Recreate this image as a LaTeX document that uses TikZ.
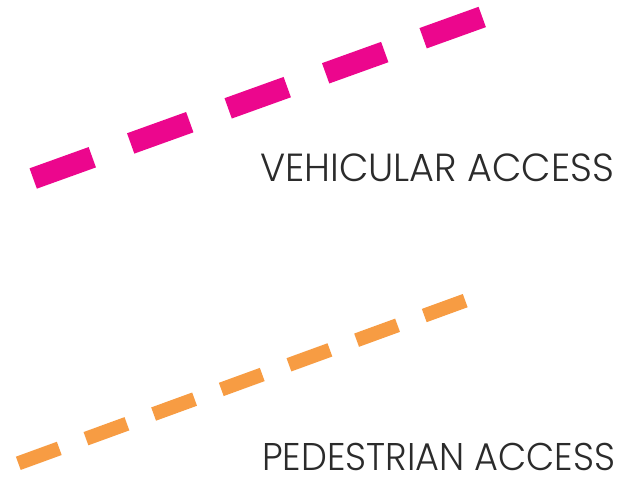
\documentclass[tikz,border=0pt]{standalone}
\usepackage{fontspec}
\setmainfont{Poppins}[UprightFont={* Light}]
\definecolor{vehpink}{HTML}{EC068D}
\definecolor{pedorange}{HTML}{F79C43}
\definecolor{labelgray}{HTML}{2B2B2B}
\begin{document}
\begin{tikzpicture}[x=1pt,y=-1pt,
  vehline/.style={draw=vehpink,line width=21.6pt,line cap=butt,dash pattern=on 62.8pt off 40.8pt},
  pedline/.style={draw=pedorange,line width=14.1pt,line cap=butt,dash pattern=on 43.6pt off 28.4pt},
  legendlabel/.style={anchor=base west,inner sep=0pt,text=labelgray,font=\fontsize{39}{39}\selectfont}]
\useasboundingbox[fill=white] (0,0) rectangle (626,479);
\coordinate (v1) at (33.2,178.5);
\coordinate (v2) at (483,16.7);
\coordinate (p1) at (18.3,463.3);
\coordinate (p2) at (465.3,300.6);
\draw[vehline] (v1) -- (v2);
\draw[pedline] (p1) -- (p2);
\node[legendlabel] (vl) at (260,181) {\resizebox{354pt}{27.7pt}{VEHICULAR ACCESS}};
\node[legendlabel] (pl) at (262,470.7) {\resizebox{353pt}{27.3pt}{PEDESTRIAN ACCESS}};
\end{tikzpicture}
\end{document}
